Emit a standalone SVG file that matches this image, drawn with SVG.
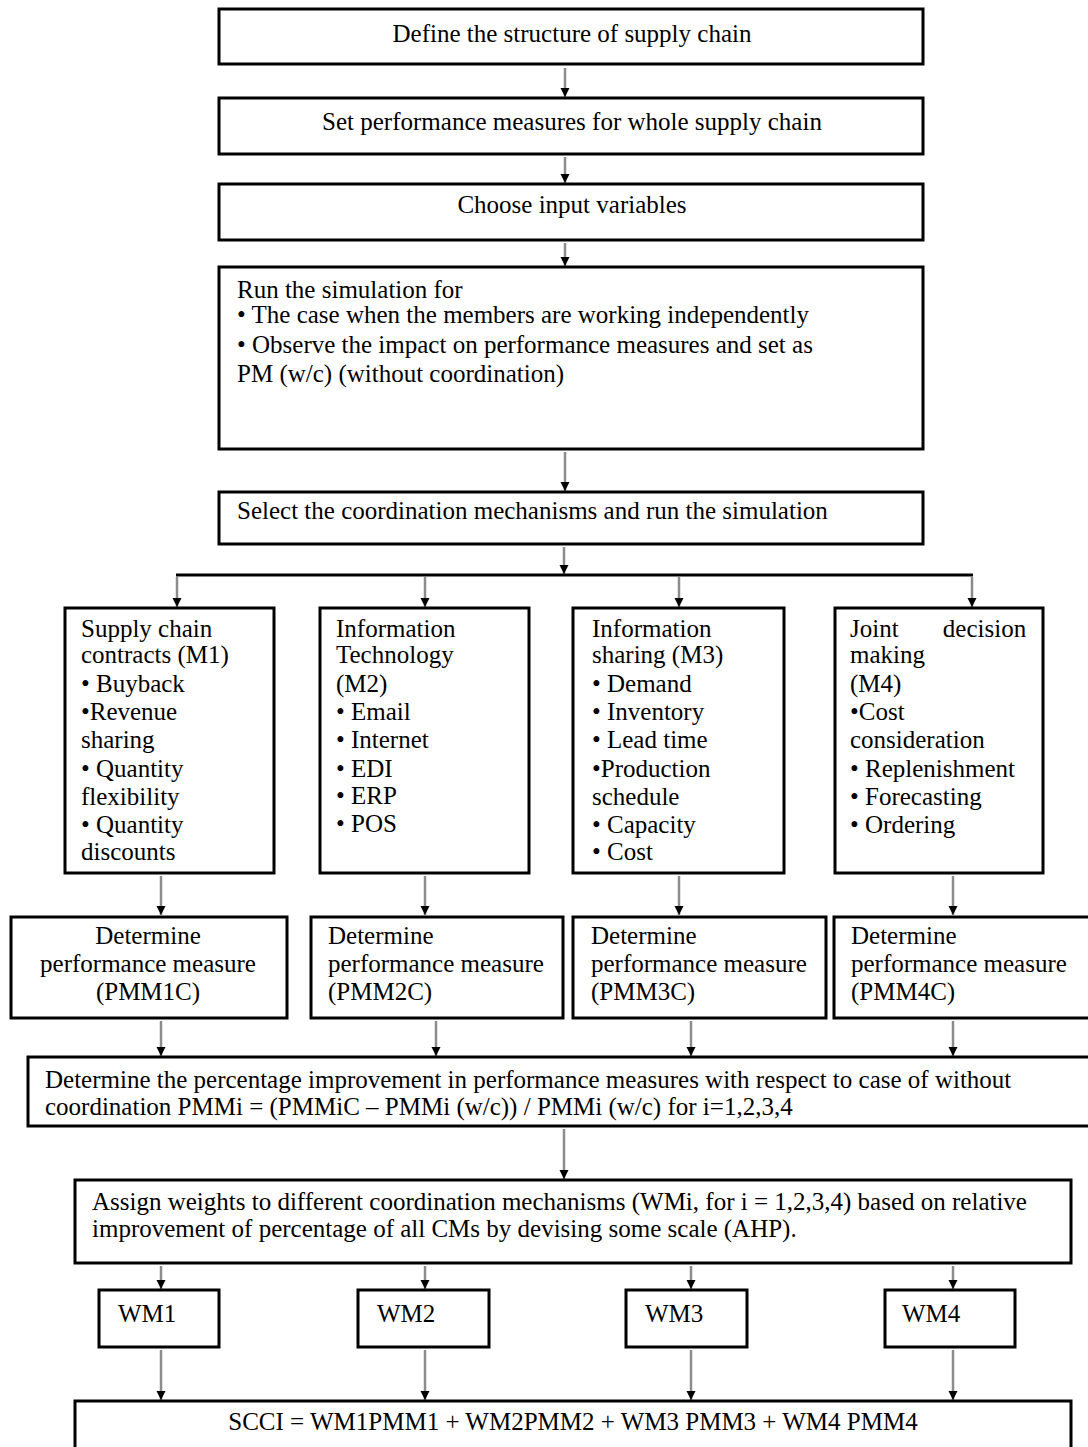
<svg xmlns="http://www.w3.org/2000/svg" width="1088" height="1447" viewBox="0 0 1088 1447">
<defs>
<style>
.b{fill:#fff;stroke:#000;stroke-width:3}
text{font-family:"Liberation Serif","Times New Roman",serif;font-size:25px;fill:#000}
.m{text-anchor:middle}
.c{stroke:#8c8c8c;stroke-width:2.5;fill:none;marker-end:url(#ah)}
.h{stroke:#000;stroke-width:3;fill:none}
</style>
<marker id="ah" viewBox="0 0 10 10" refX="10" refY="5" markerWidth="9" markerHeight="10" markerUnits="userSpaceOnUse" orient="auto">
<path d="M0,0 L10,5 L0,10 z" fill="#000"/>
</marker>
</defs>
<rect width="1088" height="1447" fill="#fff"/>

<g id="connectors">
<line class="c" x1="565" y1="68" x2="565" y2="97"/>
<line class="c" x1="565" y1="157" x2="565" y2="183"/>
<line class="c" x1="565" y1="243" x2="565" y2="266"/>
<line class="c" x1="565" y1="452" x2="565" y2="491"/>
<line class="c" x1="564" y1="547" x2="564" y2="574"/>
<line class="h" x1="176" y1="575" x2="973" y2="575"/>
<line class="c" x1="177" y1="577" x2="177" y2="607"/>
<line class="c" x1="425" y1="577" x2="425" y2="607"/>
<line class="c" x1="679" y1="577" x2="679" y2="607"/>
<line class="c" x1="972" y1="577" x2="972" y2="607"/>
<line class="c" x1="161" y1="876" x2="161" y2="915"/>
<line class="c" x1="425" y1="876" x2="425" y2="915"/>
<line class="c" x1="679" y1="876" x2="679" y2="915"/>
<line class="c" x1="953" y1="876" x2="953" y2="915"/>
<line class="c" x1="161" y1="1021" x2="161" y2="1056"/>
<line class="c" x1="436" y1="1021" x2="436" y2="1056"/>
<line class="c" x1="691" y1="1021" x2="691" y2="1056"/>
<line class="c" x1="953" y1="1021" x2="953" y2="1056"/>
<line class="c" x1="564" y1="1129" x2="564" y2="1179"/>
<line class="c" x1="161" y1="1266" x2="161" y2="1289"/>
<line class="c" x1="425" y1="1266" x2="425" y2="1289"/>
<line class="c" x1="691" y1="1266" x2="691" y2="1289"/>
<line class="c" x1="953" y1="1266" x2="953" y2="1289"/>
<line class="c" x1="161" y1="1350" x2="161" y2="1400"/>
<line class="c" x1="425" y1="1350" x2="425" y2="1400"/>
<line class="c" x1="691" y1="1350" x2="691" y2="1400"/>
<line class="c" x1="953" y1="1350" x2="953" y2="1400"/>
</g>

<g id="n1"><rect class="b" x="219" y="9" width="704" height="55"/>
<text class="m" x="572" y="42">Define the structure of supply chain</text></g>

<g id="n2"><rect class="b" x="219" y="98" width="704" height="56"/>
<text class="m" x="572" y="130">Set performance measures for whole supply chain</text></g>

<g id="n3"><rect class="b" x="219" y="184" width="704" height="56"/>
<text class="m" x="572" y="213">Choose input variables</text></g>

<g id="n4"><rect class="b" x="219" y="267" width="704" height="182"/>
<text x="237" y="298">Run the simulation for</text>
<text x="237" y="323">• The case when the members are working independently</text>
<text x="237" y="353">• Observe the impact on performance measures and set as</text>
<text x="237" y="382">PM (w/c) (without coordination)</text></g>

<g id="n5"><rect class="b" x="219" y="492" width="704" height="52"/>
<text x="237" y="519">Select the coordination mechanisms and run the simulation</text></g>

<g id="m1"><rect class="b" x="65" y="608" width="209" height="265"/>
<text x="81" y="637">Supply chain</text>
<text x="81" y="663">contracts (M1)</text>
<text x="81" y="692">• Buyback</text>
<text x="81" y="720">•Revenue</text>
<text x="81" y="748">sharing</text>
<text x="81" y="777">• Quantity</text>
<text x="81" y="805">flexibility</text>
<text x="81" y="833">• Quantity</text>
<text x="81" y="860">discounts</text></g>

<g id="m2"><rect class="b" x="320" y="608" width="209" height="265"/>
<text x="336" y="637">Information</text>
<text x="336" y="663">Technology</text>
<text x="336" y="692">(M2)</text>
<text x="336" y="720">• Email</text>
<text x="336" y="748">• Internet</text>
<text x="336" y="777">• EDI</text>
<text x="336" y="804">• ERP</text>
<text x="336" y="832">• POS</text></g>

<g id="m3"><rect class="b" x="573" y="608" width="211" height="265"/>
<text x="592" y="637">Information</text>
<text x="592" y="663">sharing (M3)</text>
<text x="592" y="692">• Demand</text>
<text x="592" y="720">• Inventory</text>
<text x="592" y="748">• Lead time</text>
<text x="592" y="777">•Production</text>
<text x="592" y="805">schedule</text>
<text x="592" y="833">• Capacity</text>
<text x="592" y="860">• Cost</text></g>

<g id="m4"><rect class="b" x="835" y="608" width="208" height="265"/>
<text x="850" y="637" word-spacing="38">Joint decision</text>
<text x="850" y="663">making</text>
<text x="850" y="692">(M4)</text>
<text x="850" y="720">•Cost</text>
<text x="850" y="748">consideration</text>
<text x="850" y="777">• Replenishment</text>
<text x="850" y="805">• Forecasting</text>
<text x="850" y="833">• Ordering</text></g>

<g id="p1"><rect class="b" x="11" y="917" width="276" height="101"/>
<text class="m" x="148" y="944">Determine</text>
<text class="m" x="148" y="972">performance measure</text>
<text class="m" x="148" y="1000">(PMM1C)</text></g>

<g id="p2"><rect class="b" x="311" y="917" width="252" height="101"/>
<text x="328" y="944">Determine</text>
<text x="328" y="972">performance measure</text>
<text x="328" y="1000">(PMM2C)</text></g>

<g id="p3"><rect class="b" x="573" y="917" width="253" height="101"/>
<text x="591" y="944">Determine</text>
<text x="591" y="972">performance measure</text>
<text x="591" y="1000">(PMM3C)</text></g>

<g id="p4"><rect class="b" x="834" y="917" width="258" height="101"/>
<text x="851" y="944">Determine</text>
<text x="851" y="972">performance measure</text>
<text x="851" y="1000">(PMM4C)</text></g>

<g id="imp"><rect class="b" x="28" y="1057" width="1064" height="69"/>
<text x="45" y="1088">Determine the percentage improvement in performance measures with respect to case of without</text>
<text x="45" y="1115">coordination PMMi = (PMMiC – PMMi (w/c)) / PMMi (w/c) for i=1,2,3,4</text></g>

<g id="aw"><rect class="b" x="75" y="1180" width="996" height="83"/>
<text x="92" y="1210">Assign weights to different coordination mechanisms (WMi, for i = 1,2,3,4) based on relative</text>
<text x="92" y="1237">improvement of percentage of all CMs by devising some scale (AHP).</text></g>

<g id="w1"><rect class="b" x="99" y="1290" width="120" height="57"/>
<text x="118" y="1322">WM1</text></g>
<g id="w2"><rect class="b" x="358" y="1290" width="131" height="57"/>
<text x="377" y="1322">WM2</text></g>
<g id="w3"><rect class="b" x="626" y="1290" width="121" height="57"/>
<text x="645" y="1322">WM3</text></g>
<g id="w4"><rect class="b" x="885" y="1290" width="130" height="57"/>
<text x="902" y="1322">WM4</text></g>

<g id="scci"><rect class="b" x="75" y="1401" width="996" height="60"/>
<text class="m" x="573" y="1430">SCCI = WM1PMM1 + WM2PMM2 + WM3 PMM3 + WM4 PMM4</text></g>
</svg>
